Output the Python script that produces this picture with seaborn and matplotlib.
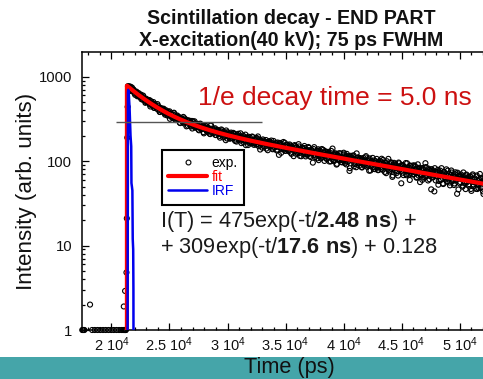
import numpy as np
import pandas as pd
import matplotlib
matplotlib.use("Agg")
import matplotlib.pyplot as plt
from matplotlib.lines import Line2D
from matplotlib.patches import Rectangle
from matplotlib.ticker import MultipleLocator, LogLocator, NullFormatter
import seaborn as sns

# ---- bi-exponential fit parameters (times in ps) ----
amp_fast, tau_fast = 475.0, 2480.0
amp_slow, tau_slow = 309.0, 17600.0
offset = 0.128
t_zero = 21330.0
decay_1e_ns = 5.0

# ---- measured histogram ----
# background channels before the pulse
bg_time = [17480, 17540, 17600, 17660, 18150, 18330, 18560, 18800, 19030, 19270,
           19500, 19740, 19970, 20200, 20430, 20650, 20850, 20980, 21060, 21120,
           21170, 21210, 21240]
bg_counts = [1, 1, 1, 1, 2, 1, 1, 1, 1, 1,
             1, 1, 1, 1, 1, 1, 1, 1, 1, 1,
             1, 1, 1]
# rising edge
rise_time = [21060, 21170, 21290, 21320, 21360, 21390]
rise_counts = [1.9, 2.9, 4.8, 21, 190, 440]
# decay tail: channels every tail_step ps, stored as deviation from the fit
# in tenths of sqrt(counts); two interleaved channel sets
tail_start, tail_step = 21420.0, 77.0
tail_resid_even = [
    3, -12, 7, 15, -4, -9, 11, 0, -17, 6, 2, -8, 13, -5, 9, -14, 4, 18, -2, -7,
    -11, 5, 8, -3, 16, -19, 1, 10, -6, -13, 12, 3, -1, 21, -9, 7, -15, 4, -4, 9,
    14, -8, -2, 6, -12, 11, 0, -21, 8, 5, -6, 17, -10, 2, -3, 13, -7, 9, -16, 1,
    6, -5, 19, -11, 3, -1, 10, -14, 7, 12, -9, 4, -18, 15, -2, 8, -6, 0, 11, -13,
    -4, 16, -7, 2, 9, -20, 5, -3, 13, -10, 1, 7, -15, 24, -8, 3, -1, 10, -12, 6,
    11, -6, 0, -17, 8, 14, -4, 5, -9, 2, 18, -13, 6, -2, -11, 9, 4, -7, 15, -3,
    -14, 7, 12, -1, -8, 3, 20, -16, 5, -5, 10, -2, -19, 8, 1, 13, -10, 4, -6, 17,
    2, -12, 9, -4, 15, -7, 0, 11, -22, 6, -3, 14, -9, 5, 7, -15, 3, -1, 12, -8,
    8, -3, -13, 16, -6, 4, 10, -11, 1, -25, 13, 5, -7, 2, 19, -4, -10, 9, -2, 6,
    -9, 14, 3, -15, 7, 0, -5, 12, -12, 8, -1, 21, -8, 4, -16, 10, 6, -3, 11, -14,
    5, -7, 17, -2, -10, 9, 1, -26, 13, 3, -6, 8, -13, 15, -4, 2, -11, 18, -1, 7,
    -16, 10, 4, -8, 12, -3, 6, -14, 0, 26, -9, 5, -2, 11, -17, 7, 3, -6, 14, -10,
    1, -4, 13, -12, 8, 16, -7, 2, -27, 9, 5, -1, 12, -15, 4, -8, 23, -5, 6, -11,
    10, -2, -14, 7, 3, -9, 15, 0, -6, 11, -18, 8, 2, -3, 17, -12, 5, 9, -7, 1,
    -13, 6, 12, -5, 19, -10, 4, -1, 8, -16, 14, 2, -8, 7, -4, 11, -21, 3, 13, -6,
    7, -11, 1, 16, -3, 5, -29, 10, -8, 4, 0, 18, -12, 6, -2, -9, 13, -5, 9, 2,
    -7, 15, -1, -13, 8, 3, 11, -20, 6, -4, 12, -10, 1, 27, -6, 5, -14, 10, -3, 8,
    13, -5, 4, -30, 9, -2, 7, 14, -11, 0, -8, 20, 3, -15, 11, -1, 6, -9, 16, -4,
    -10, 2, 18, -7, 5, -13, 10, -3, 1, 15, -19, 8, -5, 12, 4, -11, 7, -2, -16, 14,
    3, 9, -6, 11, -14, 1, 17, -8, 6, -1, 13, -12, 4, -4, 21, -9, 2, 10, -18, 5,
]
tail_resid_odd = [
    -6, 10, 2, -13, 17, -3, 8, -9, 4, 12, -15, 1, 6, -7, 14, -2, -11, 9, 3, -18,
    11, -4, 7, 0, -10, 15, -6, 3, 19, -12, 5, -1, -8, 13, 2, -16, 9, -5, 10, 4,
    -3, -14, 12, 6, -9, 1, 16, -7, 2, -11, 8, 20, -4, -13, 5, 10, -2, 7, -17, 3,
    9, -8, 4, 14, -1, -19, 6, 11, -5, 2, -12, 15, 0, -7, 18, -10, 3, 8, -3, -15,
    12, 1, -6, 9, -16, 5, 13, -2, -9, 7, 4, -14, 21, -4, 10, -8, 0, 15, -12, 6,
    -1, 8, -11, 3, 17, -5, -13, 10, 2, -20, 7, 12, -3, 5, -9, 14, -6, 1, 11, -10,
    4, -15, 9, 16, -2, 6, -8, -1, 13, -12, 3, 19, -6, 8, -17, 2, 11, -4, -9, 15,
    -7, 5, 0, -10, 12, 22, -13, 4, 7, -3, -15, 10, 1, -8, 14, 6, -19, 9, -1, 3,
    16, -11, 6, 2, -5, 9, -14, 13, -2, 8, 0, -18, 11, 5, -7, 17, -9, -3, 12, -6,
    1, 10, -12, 7, 3, -20, 15, -4, 9, -8, 5, 13, -16, 2, -1, 11, -10, 18, -5, 4,
    -9, 6, 14, -3, -13, 8, 1, -6, 20, -11, 4, 10, -2, -17, 12, 7, -4, -8, 16, 0,
    13, -2, -10, 5, 9, -15, 3, 17, -7, 1, -12, 11, 6, -19, 8, -3, 14, -6, 2, -11,
    -5, 18, -8, 4, -14, 10, 0, 7, -21, 12, -1, 5, 15, -9, 3, -16, 9, 11, -4, 6,
    8, -13, 2, 12, -6, -3, 19, -10, 5, -2, 14, -17, 7, 1, -8, 10, -12, 4, 16, -7,
    -12, 3, 11, -9, 6, 16, -1, -14, 9, 4, -6, 22, -11, 2, 13, -5, -18, 8, 0, 10,
    5, -7, -16, 14, 1, 9, -4, 11, -13, 7, 2, -10, 18, -3, 6, -20, 12, -1, -8, 15,
    -2, 12, 6, -12, 20, -8, 3, -5, 10, -15, 8, 1, -9, 16, -4, 5, 13, -11, 7, -28,
    10, -6, -1, 17, -11, 4, 8, -18, 2, 13, -7, 6, -14, 11, 0, -4, 19, -9, 3, 9,
    -15, 7, 13, -4, 2, -10, 15, -2, -26, 11, 5, -8, 9, 1, -13, 18, -6, 4, 12, -3,
    6, -9, 3, 10, -17, 14, -5, 0, 8, -12, 16, -3, -10, 7, 2, 12, -7, -14, 5, 11,
]
# instrument response function
irf_time = [21380, 21420, 21440, 21480, 21560, 21640, 21700, 21720, 21760, 21800,
            21830, 21870, 21890, 21900]
irf_counts = [0.3, 650, 700, 660, 420, 200, 150, 55, 50, 45, 12, 9, 3, 0.3]

# ---- axes labels ----
x_ticks = [20000, 25000, 30000, 35000, 40000, 45000, 50000]
x_tick_labels = ["2 10$^{4}$", "2.5 10$^{4}$", "3 10$^{4}$", "3.5 10$^{4}$",
                 "4 10$^{4}$", "4.5 10$^{4}$", "5 10$^{4}$"]
y_ticks = [1, 10, 100, 1000]
y_tick_labels = ["1", "10", "100", "1000"]


def model(t):
    dt = np.asarray(t, dtype=float) - t_zero
    return amp_fast * np.exp(-dt / tau_fast) + amp_slow * np.exp(-dt / tau_slow) + offset


def tail_channels(start, resid):
    t = start + tail_step * np.arange(len(resid))
    f = model(t)
    return t, f + np.asarray(resid) / 10.0 * np.sqrt(f)


# ---- assemble data frames ----
t_even, c_even = tail_channels(tail_start, tail_resid_even)
t_odd, c_odd = tail_channels(tail_start + tail_step / 2, tail_resid_odd)

exp_df = pd.DataFrame({
    "t": np.concatenate([bg_time, rise_time, t_even, t_odd]),
    "counts": np.concatenate([bg_counts, rise_counts, c_even, c_odd]),
})

fit_t = np.arange(t_zero, 52700, 40.0)
fit_df = pd.DataFrame({
    "t": np.concatenate([[t_zero], fit_t]),
    "counts": np.concatenate([[0.3], model(fit_t)]),
})
irf_df = pd.DataFrame({"t": irf_time, "counts": irf_counts})

peak = model(t_zero)
e_level = peak / np.e

# ---- style ----
sns.set_theme(style="ticks")
plt.rcParams["font.family"] = ["Liberation Sans", "DejaVu Sans"]
plt.rcParams["mathtext.fontset"] = "custom"
plt.rcParams["mathtext.rm"] = "Liberation Sans"
plt.rcParams["mathtext.bf"] = "Liberation Sans:bold"
plt.rcParams["mathtext.it"] = "Liberation Sans:italic"
plt.rcParams["mathtext.default"] = "rm"

fig = plt.figure(figsize=(4.83, 3.79), dpi=100, facecolor="white")
ax = fig.add_axes([82 / 483, 49 / 379, 408 / 483, 278.3 / 379])
ax.set_facecolor("white")

# teal footer band
fig.add_artist(Rectangle((0, 0), 1, 22 / 379, transform=fig.transFigure,
                         facecolor="#45A5A9", edgecolor="none", zorder=-5))

ax.set_yscale("log")

sns.scatterplot(data=exp_df, x="t", y="counts", ax=ax, marker="o", s=13,
                facecolor="none", edgecolor="black", linewidth=0.8,
                zorder=2, clip_on=False, legend=False)
sns.lineplot(data=fit_df, x="t", y="counts", ax=ax, color="#FF0000", linewidth=3.0,
             sort=False, estimator=None, zorder=3, legend=False)
sns.lineplot(data=irf_df, x="t", y="counts", ax=ax, color="#0000EE", linewidth=1.8,
             sort=False, estimator=None, zorder=4, legend=False)

# 1/e level guide
ax.hlines(e_level, 20400, 33000, color="#555555", linewidth=1.0, zorder=5)

ax.set_xlim(17457, 52629)
ax.set_ylim(1, 1980)

ax.set_xticks(x_ticks)
ax.set_xticklabels(x_tick_labels)
ax.xaxis.set_minor_locator(MultipleLocator(1000))
ax.set_yticks(y_ticks)
ax.set_yticklabels(y_tick_labels)
ax.yaxis.set_minor_locator(LogLocator(base=10, subs=np.arange(2, 10)))
ax.yaxis.set_minor_formatter(NullFormatter())

ax.tick_params(which="both", direction="in", top=True, right=False,
               colors="black", width=0.9)
ax.tick_params(which="major", length=5)
ax.tick_params(which="minor", length=2.5)
ax.tick_params(axis="x", labelsize=10.5, pad=4, labelcolor="#111111")
ax.tick_params(axis="y", labelsize=10.7, pad=7, labelcolor="#111111")
for side in ["left", "bottom", "top"]:
    ax.spines[side].set_color("black")
    ax.spines[side].set_linewidth(1.1)
ax.spines["right"].set_visible(False)

ax.set_xlabel("Time (ps)", fontsize=15.7, color="#111111")
ax.xaxis.set_label_coords((289 - 82) / 408, (330 - 368) / 278.3)
ax.xaxis.label.set_va("center")
ax.set_ylabel("Intensity (arb. units)", fontsize=16.1, color="#111111")
ax.yaxis.set_label_coords((26.5 - 82) / 408, (330 - 191.5) / 278.3)
ax.yaxis.label.set_va("center")

fig.text(291 / 483, 1 - 29.5 / 379,
         "Scintillation decay - END PART\nX-excitation(40 kV); 75 ps FWHM",
         ha="center", va="center", fontsize=14.1, fontweight="bold",
         linespacing=1.2, color="#111111")

ax.text((198 - 82) / 408, (330 - 98) / 278.3,
        f"1/e decay time = {decay_1e_ns:.1f} ns", transform=ax.transAxes,
        ha="left", va="center", fontsize=19, color="#CC1111")

line1 = f"I(T) = {amp_fast:.0f}exp(-t/$\\mathbf{{{tau_fast / 1000:.2f}\\ ns}}$) +"
line2 = f"+ {amp_slow:.0f}exp(-t/$\\mathbf{{{tau_slow / 1000:.1f}\\ ns}}$) + {offset:.3f}"
ax.text((160 - 82) / 408, (330 - 222) / 278.3, line1, transform=ax.transAxes,
        ha="left", va="center", fontsize=15.7, color="#1a1a1a")
ax.text((160 - 82) / 408, (330 - 248) / 278.3, line2, transform=ax.transAxes,
        ha="left", va="center", fontsize=15.7, color="#1a1a1a")

handles = [
    Line2D([], [], linestyle="none", marker="o", markerfacecolor="none",
           markeredgecolor="black", markersize=3.5, markeredgewidth=0.8, label="exp."),
    Line2D([], [], color="#FF0000", linewidth=3.0, label="fit"),
    Line2D([], [], color="#0000EE", linewidth=1.8, label="IRF"),
]
leg = ax.legend(handles=handles, loc="upper left",
                bbox_to_anchor=((162 - 82) / 408, (330 - 150) / 278.3),
                borderaxespad=0, frameon=True, fancybox=False, edgecolor="black",
                framealpha=1, fontsize=10, handlelength=2.8, handletextpad=0.3,
                labelspacing=0.0, borderpad=0.45)
leg.get_frame().set_linewidth(1.5)
for txt, c in zip(leg.get_texts(), ["black", "#FF0000", "#0000EE"]):
    txt.set_color(c)
leg.set_zorder(6)

fig.savefig("out.png", dpi=100)
